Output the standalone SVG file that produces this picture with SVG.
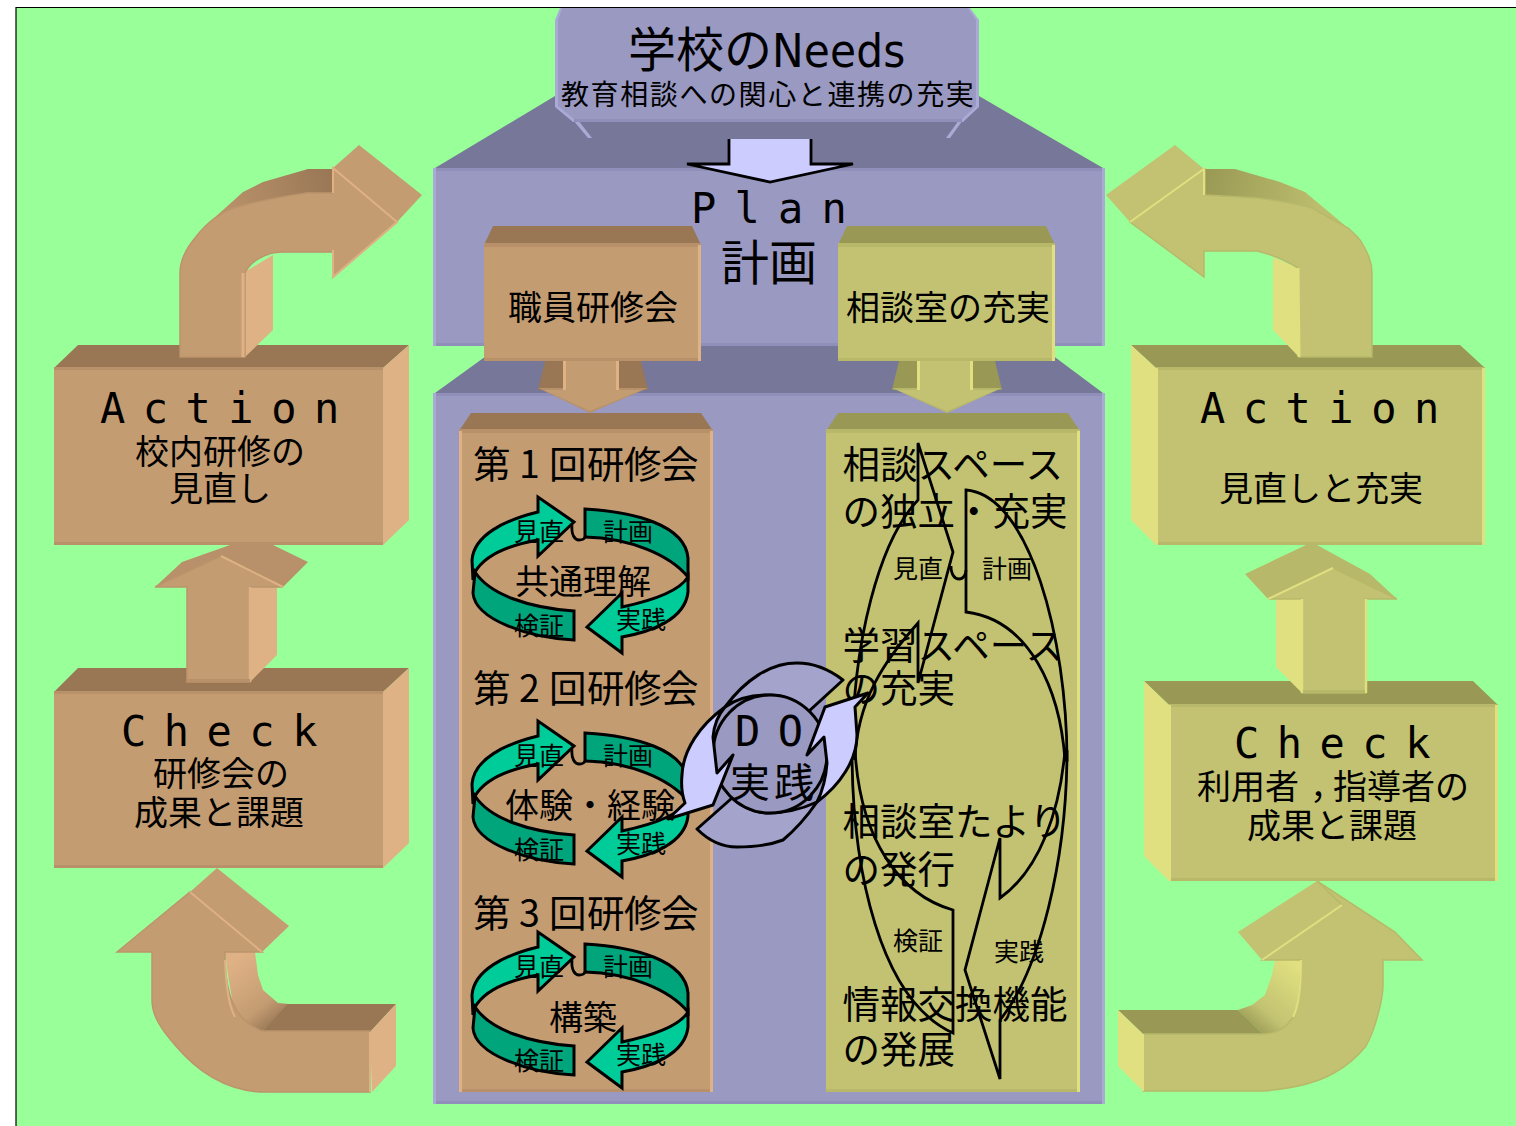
<svg xmlns="http://www.w3.org/2000/svg" xmlns:xlink="http://www.w3.org/1999/xlink" width="1516" height="1126" viewBox="0 0 1516 1126">
<style>
text{font-family:"Noto Sans CJK JP","DejaVu Sans",sans-serif;fill:#000}
.mono{font-family:"DejaVu Sans Mono",monospace;font-size:42px;letter-spacing:17.500px}
.f25{font-size:25px}.f34{font-size:34px}.f37{font-size:37.500px}.f48{font-size:48px}
.tf{fill:#C49C72}.tt{fill:#997755}.te{fill:#B8916A}.tl{fill:#DFB285}
.yf{fill:#C2C272}.yt{fill:#999955}.ye{fill:#B8B86A}.yl{fill:#E0E080}
.bf{fill:#9999C2}.bd{fill:#777799}.be{fill:#8F8FBA}.bl{fill:#AAAAD6}
.ta{fill:#C49C72;stroke:#BC946C;stroke-width:1.500;stroke-linejoin:miter}
.ya{fill:#C2C272;stroke:#B8B86A;stroke-width:1.500;stroke-linejoin:miter}
.hl{stroke:#DFB285;fill:none}.hy{stroke:#E0E080;fill:none}
.out{fill:none;stroke:#000;stroke-width:2.800;stroke-linejoin:miter}
.cl{fill:#00CC99;stroke:#000;stroke-width:3}
.cd{fill:#00A57C;stroke:#000;stroke-width:3}
.do{stroke:#000;stroke-width:3;stroke-linejoin:round}
</style>
<defs>
<linearGradient id="gt" gradientUnits="userSpaceOnUse" x1="333" y1="175" x2="225" y2="205"><stop offset="0" stop-color="#997755"/><stop offset="1" stop-color="#B8916A"/></linearGradient>
<linearGradient id="gtr" gradientUnits="userSpaceOnUse" x1="1204" y1="175" x2="1320" y2="205"><stop offset="0" stop-color="#999955"/><stop offset="1" stop-color="#BDBD6E"/></linearGradient>
<linearGradient id="gi" gradientUnits="userSpaceOnUse" x1="228" y1="965" x2="275" y2="1025"><stop offset="0" stop-color="#DFB285"/><stop offset="0.7" stop-color="#C49C72"/><stop offset="1" stop-color="#997755"/></linearGradient>
<linearGradient id="gir" gradientUnits="userSpaceOnUse" x1="1295" y1="965" x2="1245" y2="1025"><stop offset="0" stop-color="#E0E080"/><stop offset="0.7" stop-color="#C2C272"/><stop offset="1" stop-color="#999955"/></linearGradient>
<g id="cyc">
<path class="cl" d="M473,580 L472,560 C474,535 505,520 538,512 L538,497 L574,522 L538,556 L538,540 C510,545 485,555 475,572 Z"/>
<path class="cd" d="M585,509 C635,512 685,525 688,558 L688,577 C670,555 630,538 585,537 Z"/>
<path class="cl" d="M688,577 L688,592 C685,620 650,632 622,637 L622,653 L587,627 L622,593 L622,607 C655,600 680,590 688,577 Z"/>
<path class="cd" d="M475,572 L473,593 C475,620 530,638 574,640 L574,611 C530,608 490,595 475,572 Z"/>
<path class="out" d="M572,525 C571,535 575,540 579,540 C585,540 585,537 586,535"/>
</g>
</defs>
<rect width="1516" height="1126" fill="#fff"/>
<rect x="16" y="7" width="1500" height="1119" fill="#99FF99"/>
<path d="M16,1126V7.500H1516" fill="none" stroke="#000" stroke-width="1.200"/>

<g id="background-plan">
<polygon class="bd" points="435,168 555,96 979,96 1103,168"/>
<rect class="bf" x="433" y="168" width="672" height="178"/>
<rect class="be" x="433" y="168" width="672" height="3"/>
<rect class="be" x="433" y="343" width="672" height="3"/>
<rect class="bl" x="433" y="168" width="3" height="178"/>
<rect class="bl" x="1102" y="168" width="3" height="178"/>
<polygon class="bd" points="435,393 500,346 1040,346 1103,393"/>
<rect class="bf" x="433" y="393" width="672" height="711"/>
<rect class="be" x="433" y="393" width="672" height="3"/>
<rect class="be" x="433" y="1101" width="672" height="3"/>
<rect class="bl" x="433" y="393" width="3" height="711"/>
<rect class="bl" x="1102" y="393" width="3" height="711"/>
</g>

<g id="needs">
<polygon class="bl" points="573,120 578,120 592,138 588,138"/>
<polygon class="bl" points="963,120 959,120 946,138 950,138"/>
<polygon class="bl" points="560,8 970,8 979,20 979,107 963,122 573,122 555,107 555,20"/>
<polygon class="bf" points="562,8 968,8 976,20 976,106 962,119 574,119 558,106 558,20"/>
<rect class="be" x="574" y="119" width="388" height="3"/>
<text x="628" y="67" class="f48">学校の<tspan font-family="DejaVu Sans" font-stretch="condensed" font-size="47" letter-spacing="0.200">Needs</tspan></text>
<text x="561" y="105" font-size="28" letter-spacing="1.600">教育相談への関心と連携の充実</text>
</g>

<g id="plan-label">
<text x="691" y="223" class="mono" style="letter-spacing:18.200px">Plan</text>
<text x="721" y="280" class="f48">計画</text>
</g>

<g id="staff-training">
<polygon class="tt" points="484,245 493,226 692,226 701,245"/>
<rect class="tf" x="484" y="245" width="217" height="116"/>
<rect class="te" x="484" y="243" width="217" height="4"/><rect class="te" x="484" y="358" width="217" height="3"/>
<rect class="tl" x="698" y="245" width="3" height="116"/>
<text x="508" y="320" class="f34">職員研修会</text>
</g>
<g id="room-enhance">
<polygon class="yt" points="838,245 847,226 1046,226 1055,245"/>
<rect class="yf" x="838" y="245" width="217" height="116"/>
<rect class="ye" x="838" y="243" width="217" height="4"/><rect class="ye" x="838" y="358" width="217" height="3"/>
<rect class="yl" x="1052" y="245" width="3" height="116"/>
<text x="846" y="320" class="f34">相談室の充実</text>
</g>

<g id="action-left">
<polygon class="tt" points="54,368 78,345 409,345 383,368"/>
<polygon class="tl" points="383,368 409,345 409,520 383,545"/>
<rect class="tf" x="54" y="368" width="329" height="177"/>
<rect class="te" x="54" y="367" width="329" height="3"/><rect class="te" x="54" y="542" width="329" height="3"/>
<text x="100" y="423" class="mono">Action</text>
<text x="135" y="464" class="f34">校内研修の</text>
<text x="169" y="501" class="f34">見直し</text>
</g>
<g id="check-left">
<polygon class="tt" points="54,692 78,668 409,668 383,692"/>
<polygon class="tl" points="383,692 409,668 409,843 383,868"/>
<rect class="tf" x="54" y="692" width="329" height="176"/>
<rect class="te" x="54" y="691" width="329" height="3"/><rect class="te" x="54" y="865" width="329" height="3"/>
<text x="121" y="746" class="mono">Check</text>
<text x="153" y="786" class="f34">研修会の</text>
<text x="134" y="825" class="f34">成果と課題</text>
</g>
<g id="action-right">
<polygon class="yt" points="1156,368 1131,345 1460,345 1485,368"/>
<polygon class="yl" points="1131,345 1156,368 1156,545 1131,520"/>
<rect class="yf" x="1156" y="368" width="329" height="177"/>
<rect class="ye" x="1156" y="367" width="329" height="3"/><rect class="ye" x="1156" y="542" width="329" height="3"/>
<rect class="yl" x="1155" y="368" width="3" height="177"/><rect class="yl" x="1482" y="368" width="3" height="177"/>
<text x="1200" y="423" class="mono">Action</text>
<text x="1219" y="501" class="f34">見直しと充実</text>
</g>
<g id="check-right">
<polygon class="yt" points="1169,705 1144,681 1473,681 1498,705"/>
<polygon class="yl" points="1144,681 1169,705 1169,881 1144,856"/>
<rect class="yf" x="1169" y="705" width="329" height="176"/>
<rect class="ye" x="1169" y="704" width="329" height="3"/><rect class="ye" x="1169" y="878" width="329" height="3"/>
<rect class="yl" x="1168" y="705" width="3" height="176"/><rect class="yl" x="1495" y="705" width="3" height="176"/>
<text x="1234" y="758" class="mono">Check</text>
<text x="1197 1231 1265 1310 1333 1367 1401 1435" y="799" class="f34">利用者，指導者の</text>
<text x="1247" y="838" class="f34">成果と課題</text>
</g>

<g id="training-panel">
<polygon class="tt" points="459,431 471,413 701,413 713,431"/>
<rect class="tf" x="459" y="431" width="254" height="661"/>
<rect class="te" x="459" y="429" width="254" height="4"/><rect class="te" x="459" y="1089" width="254" height="3"/>
<rect class="tl" x="459" y="431" width="3" height="661"/><rect class="tl" x="710" y="431" width="3" height="661"/>
<text x="473 511 519 541 549 587 624 661" y="478" class="f37">第 1 回研修会</text>
<text x="473 511 519 541 549 587 624 661" y="702" class="f37">第 2 回研修会</text>
<text x="473 511 519 541 549 587 624 661" y="927" class="f37">第 3 回研修会</text>
</g>
<g id="cycle-1">
<use xlink:href="#cyc" href="#cyc"/>
<text x="515" y="594" class="f34">共通理解</text>
<text x="514" y="541" class="f25">見直</text><text x="603" y="541" class="f25">計画</text>
<text x="616" y="629" class="f25">実践</text><text x="514" y="635" class="f25">検証</text>
</g>
<g id="cycle-2">
<use xlink:href="#cyc" href="#cyc" y="224"/>
<text x="505" y="818" class="f34">体験・経験</text>
<text x="514" y="765" class="f25">見直</text><text x="603" y="765" class="f25">計画</text>
<text x="616" y="853" class="f25">実践</text><text x="514" y="859" class="f25">検証</text>
</g>
<g id="cycle-3">
<use xlink:href="#cyc" href="#cyc" y="435"/>
<text x="549" y="1030" class="f34">構築</text>
<text x="514" y="976" class="f25">見直</text><text x="603" y="976" class="f25">計画</text>
<text x="616" y="1064" class="f25">実践</text><text x="514" y="1070" class="f25">検証</text>
</g>

<g id="room-panel">
<polygon class="yt" points="826,431 838,413 1068,413 1080,431"/>
<rect class="yf" x="826" y="431" width="254" height="661"/>
<rect class="ye" x="826" y="429" width="254" height="4"/><rect class="ye" x="826" y="1089" width="254" height="3"/>
<rect class="yl" x="1077" y="431" width="3" height="661"/>
<text x="842.500" y="478" class="f37">相談スペース</text>
<text x="842.500" y="525" class="f37">の独立・充実</text>
<text x="842.500" y="659" class="f37">学習スペース</text>
<text x="842.500" y="702" class="f37">の充実</text>
<text x="842.500" y="835" class="f37">相談室たより</text>
<text x="842.500" y="883" class="f37">の発行</text>
<text x="842.500" y="1018" class="f37">情報交換機能</text>
<text x="842.500" y="1063" class="f37">の発展</text>
<text x="893" y="578" class="f25">見直</text><text x="982" y="578" class="f25">計画</text>
<text x="893" y="950" class="f25">検証</text><text x="994" y="961" class="f25">実践</text>
</g>
<g id="room-cycle">
<path class="out" d="M852,760 C852,640 880,540 918,500 L918,443 L953,552 L918,683 L918,623 C885,660 857,700 855,760"/>
<path class="out" d="M966,490 C1030,495 1067,640 1067,760 L1065,760 C1060,690 1030,620 966,612 Z"/>
<path class="out" d="M852,750 C852,870 880,1000 953,1033 L953,910 C900,895 860,840 855,750"/>
<path class="out" d="M1067,750 C1067,860 1040,970 1000,1020 L1000,1079 L965,970 L1000,838 L1000,898 C1040,870 1060,810 1065,750"/>
<path class="out" d="M951,566 C951,575 955,579 959,579 C963,579 966,575 966,570"/>
</g>

<g id="connectors">
<g id="needs-plan-arrow">
<polygon points="729,139 811,139 811,164 853,164 770,182 687,164 729,164" fill="#CCCCFF"/>
<path class="out" d="M729,139V164H687L770,182L853,164H811V139"/>
</g>
<g id="staff-arrow">
<polygon class="tt" points="545,361 563,361 563,390 538,390"/>
<polygon class="tt" points="619,361 641,361 648,390 619,390"/>
<polygon class="te" points="538,388 648,388 590,413"/>
<polygon class="tf" points="544,390 642,390 590,411"/>
<rect class="tf" x="563" y="361" width="56" height="30"/>
<rect class="tl" x="563" y="361" width="3" height="29"/><rect class="tl" x="616" y="361" width="3" height="29"/>
</g>
<g id="room-arrow">
<polygon class="yt" points="899,361 917,361 917,390 892,390"/>
<polygon class="yt" points="973,361 995,361 1002,390 973,390"/>
<polygon class="ye" points="892,388 1002,388 947,413"/>
<polygon class="yf" points="898,390 996,390 947,411"/>
<rect class="yf" x="917" y="361" width="56" height="30"/>
<rect class="yl" x="917" y="361" width="3" height="29"/><rect class="yl" x="970" y="361" width="3" height="29"/>
</g>

<g id="arrow-top-left">
<polygon class="tl" points="243,273 273,255 273,330 245,357"/>
<polygon fill="url(#gt)" points="333,193 333,169 308,169 263,182 243,192 203,228 237,207 307,195"/>
<polygon class="tf" points="333,168 359,145 422,195 397,222"/>
<path class="ta" d="M180,357 H245 V273 C250,262 265,252 283,252 H333 V277 L397,222 L333,168 V193 H307 C280,197 255,202 237,207 C220,212 205,225 195,238 C185,250 180,262 180,273 Z"/>
<path class="hl" stroke-width="2" d="M333,250V277L397,222L333,168V193"/>
<path class="hl" stroke-width="3" d="M243,273V357"/>
</g>
<g id="arrow-top-right">
<polygon class="yl" points="1298,268 1273,257 1273,330 1299,357"/>
<polygon fill="url(#gtr)" points="1205,195 1204,169 1235,169 1280,182 1305,192 1348,228 1312,208 1257,198"/>
<polygon class="yf" points="1204,169 1175,145 1106,195 1130,222"/>
<path class="ya" d="M1299,357 H1372 V273 C1372,260 1366,250 1362,243 C1358,236 1352,232 1348,228 L1312,208 C1295,203 1280,201 1257,198 L1205,195 V169 L1130,222 L1204,277 V251 H1257 C1270,254 1285,260 1298,268 Z"/>
<path class="hy" stroke-width="2" d="M1204,195V169L1130,222"/>
<path class="hy" stroke-width="3" d="M1298,268L1299,357"/>
</g>
<g id="arrow-left-up">
<polygon class="tl" points="250,587 277,587 277,655 250,682"/>
<polygon class="te" points="155,587 182,562 230,545 273,545 308,562 283,587"/>
<polygon class="ta" points="187,682 250,682 250,587 283,587 221,556 155,587 187,587"/>
<path class="hl" stroke-width="2" d="M221,556L283,587"/>
<path class="hl" stroke-width="2.500" d="M250,587V682"/>
<rect class="te" x="187" y="679" width="63" height="3"/>
</g>
<g id="arrow-right-up">
<polygon class="yl" points="1276,599 1302,599 1302,693 1276,667"/>
<polygon class="ye" points="1268,599 1245,574 1306,545 1317,545 1370,574 1397,599"/>
<polygon class="ya" points="1302,693 1366,693 1366,599 1397,599 1333,568 1268,599 1302,599"/>
<path class="hy" stroke-width="2" d="M1333,568L1268,599"/>
<path class="hy" stroke-width="2.500" d="M1302,599V693M1366,599V693"/>
<rect class="ye" x="1303" y="690" width="62" height="3"/>
</g>
<g id="arrow-bottom-left">
<polygon fill="url(#gi)" points="225,952 255,952 258,975 263,990 278,1003 289,1004 262,1031 235,1017 228,975"/>
<polygon class="tt" points="262,1031 288,1004 396,1004 370,1032"/>
<polygon class="tl" points="370,1032 396,1004 396,1066 372,1092"/>
<polygon class="tf" points="190,892 217,868 289,926 262,952"/>
<path class="ta" d="M117,952 L190,892 L262,952 H225 V960 C226,990 232,1020 262,1031 H370 V1092 H260 C230,1090 200,1075 175,1045 C160,1028 152,1015 152,1000 V952 Z"/>
<path class="hl" stroke-width="2" d="M190,892L262,952M370,1032V1092"/>
<path class="hl" stroke-width="2" d="M225,960 C226,985 228,1005 235,1017"/>
</g>
<g id="arrow-bottom-right">
<polygon fill="url(#gir)" points="1301,960 1275,960 1272,975 1265,995 1252,1005 1238,1010 1263,1034 1280,1032 1293,1017 1300,990"/>
<polygon class="yt" points="1118,1010 1238,1010 1263,1034 1143,1034"/>
<polygon class="yl" points="1118,1010 1143,1034 1143,1091 1118,1066"/>
<polygon class="yf" points="1342,905 1317,881 1238,932 1262,960"/>
<path class="ya" d="M1262,960 L1342,905 L1317,881 L1395,932 L1422,960 H1383 V985 C1383,1000 1375,1030 1366,1046 C1358,1056 1345,1067 1334,1073 C1320,1081 1300,1088 1263,1091 H1143 V1034 H1263 C1275,1034 1285,1030 1293,1017 C1298,1008 1301,990 1301,960 Z"/>
<path class="hy" stroke-width="2" d="M1342,905L1262,960M1143,1034V1091"/>
<path class="hy" stroke-width="2" d="M1301,960 C1301,990 1298,1008 1293,1017"/>
</g>
</g>

<g id="do-cycle">
<path class="do" fill="#A3A3CC" d="M725,707 C745,680 770,663 797,663 C815,663 830,670 843,680 L808,712 C795,700 785,695 767,695 C750,695 735,700 725,707 Z"/>
<path class="do" fill="#A3A3CC" d="M697,829 C710,842 725,847 737,847 C755,847 770,845 783,840 C795,830 808,815 817,802 C800,810 785,813 767,813 C755,813 740,805 732,798 Z"/>
<ellipse class="do" cx="770" cy="754" rx="57" ry="59" fill="#9999C2"/>
<path class="do" fill="#CCCCFF" d="M725,707 C700,725 683,750 682,775 C681,785 682,795 685,803 L668,819 L713,805 L733,755 L717,773 L713,737 C714,725 718,715 725,707 Z"/>
<path class="do" fill="#CCCCFF" d="M817,802 C840,785 857,760 857,735 L855,707 L868,693 L825,707 L807,755 L824,737 L827,763 C826,778 823,790 817,802 Z"/>
<text x="735" y="746" class="mono">DO</text>
<text x="730" y="797" font-size="40" letter-spacing="4">実践</text>
</g>
</svg>
